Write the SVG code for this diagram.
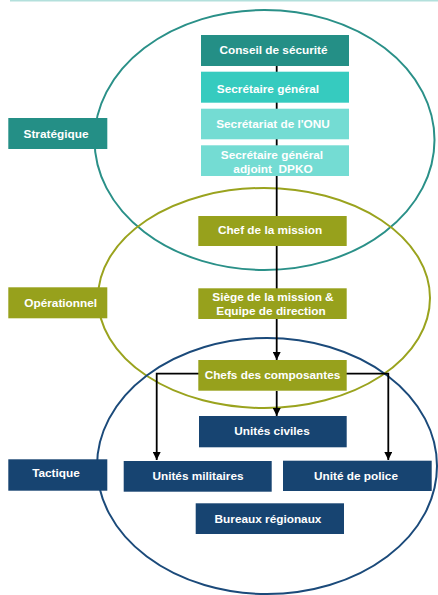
<svg xmlns="http://www.w3.org/2000/svg" width="438" height="595" viewBox="0 0 438 595">
<style>
.t{font-family:"Liberation Sans",Arial,sans-serif;font-weight:bold;font-size:11.8px;fill:#fff;text-anchor:middle}
.c{stroke:#000;stroke-width:1.8;fill:none}
.dk{fill:#248f86}.md{fill:#36cbbf}.lt{fill:#74dcd3}.ol{fill:#97a11c}.nv{fill:#174471}
</style>
<defs>
<marker id="ah" viewBox="0 0 10 10" refX="10" refY="5" markerWidth="4.5" markerHeight="4.5" markerUnits="strokeWidth" orient="auto">
<path d="M0,0 L10,5 L0,10 z" fill="#000"/>
</marker>
</defs>
<rect width="438" height="595" fill="#fff"/>
<line x1="10" y1="0.5" x2="438" y2="0.5" stroke="#b3e0dc" stroke-width="2"/>
<g id="zones" fill="none" stroke-width="2">
<ellipse cx="264.5" cy="140" rx="170" ry="130" stroke="#2a9088"/>
<ellipse cx="264" cy="298" rx="166" ry="110" stroke="#9aa31e"/>
<ellipse cx="267" cy="466" rx="170" ry="128" stroke="#1b4a7a"/>
</g>
<g id="connectors">
<line class="c" x1="276.7" y1="65" x2="276.7" y2="360" marker-end="url(#ah)"/>
<line class="c" x1="276.7" y1="391" x2="276.7" y2="416" marker-end="url(#ah)"/>
<polyline class="c" points="199,373.7 156.7,373.7 156.7,460" marker-end="url(#ah)"/>
<polyline class="c" points="346,373.7 388.3,373.7 388.3,460" marker-end="url(#ah)"/>
</g>
<g id="conseil"><rect class="dk" x="201" y="35" width="148" height="31"/><text class="t" x="273.5" y="53.6">Conseil de sécurité</text></g>
<g id="sg"><rect class="md" x="201" y="71.7" width="148" height="31"/><text class="t" x="268" y="92.6">Secrétaire général</text></g>
<g id="secretariat"><rect class="lt" x="201" y="108.7" width="148" height="30.6"/><text class="t" x="273" y="127.6">Secrétariat de l'ONU</text></g>
<g id="sga"><rect class="lt" x="201" y="145.3" width="148" height="30.7"/><text class="t" x="272" y="159.3">Secrétaire général</text><text class="t" x="273" y="173.3" xml:space="preserve">adjoint  DPKO</text></g>
<g id="strategique"><rect class="dk" x="8.3" y="118" width="99" height="31"/><text class="t" x="56" y="137.6">Stratégique</text></g>
<g id="chef"><rect class="ol" x="198.3" y="216" width="148.4" height="30"/><text class="t" x="270" y="234.3">Chef de la mission</text></g>
<g id="siege"><rect class="ol" x="198.3" y="288.3" width="148.4" height="30.7"/><text class="t" x="273" y="301">Siège de la mission &amp;</text><text class="t" x="271" y="315">Equipe de direction</text></g>
<g id="operationnel"><rect class="ol" x="8.3" y="287.3" width="99" height="31"/><text class="t" x="60.7" y="307">Opérationnel</text></g>
<g id="chefs"><rect class="ol" x="198.3" y="360" width="148.4" height="30.7"/><text class="t" x="272.5" y="379.3">Chefs des composantes</text></g>
<g id="civiles"><rect class="nv" x="199" y="416" width="147.7" height="31.3"/><text class="t" x="272" y="435">Unités civiles</text></g>
<g id="militaires"><rect class="nv" x="123.7" y="461" width="148" height="30.7"/><text class="t" x="198" y="480.3">Unités militaires</text></g>
<g id="police"><rect class="nv" x="283" y="460.7" width="148.7" height="30.3"/><text class="t" x="356" y="480.3">Unité de police</text></g>
<g id="bureaux"><rect class="nv" x="195.7" y="503.3" width="148.3" height="30.7"/><text class="t" x="268" y="522.6">Bureaux régionaux</text></g>
<g id="tactique"><rect class="nv" x="8.3" y="459.3" width="99" height="31.4"/><text class="t" x="56" y="477">Tactique</text></g>
</svg>
